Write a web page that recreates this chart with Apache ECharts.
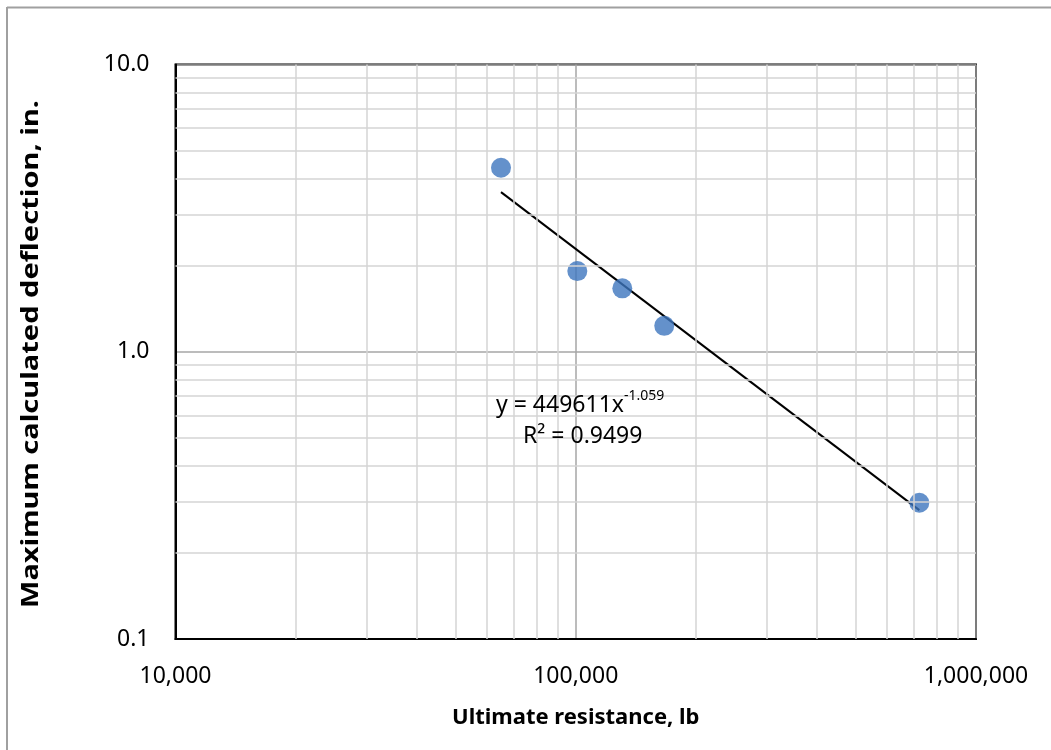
<!DOCTYPE html>
<html>
<head>
<meta charset="utf-8">
<script src="https://cdn.jsdelivr.net/npm/echarts@6/dist/echarts.min.js"></script>
<style>
  html, body { margin: 0; padding: 0; background: #fff; }
  #chart { width: 1051px; height: 750px; }
</style>
</head>
<body>
<div id="chart"></div>
<script>
// Ultimate resistance (lb) against maximum calculated deflection (in.)
const resistance = [65050, 100900, 130700, 166400, 721800];
const deflection = [4.37, 1.909, 1.662, 1.231, 0.298];

// Power-law fit shown on the chart: y = a * x^b
const fitA = 449611;
const fitB = -1.059;
const fitR2 = 0.9499;

// Axis ranges (decades)
const xMin = 10000, xMax = 1000000;
const yMin = 0.1, yMax = 10;

const xTitle = 'Ultimate resistance, lb';
const yTitle = 'Maximum calculated deflection, in.';

const FONT = 'Noto Sans';

// Minor gridline positions (2..9 within each decade)
function minorValues(lo, hi) {
  const out = [];
  for (let d = lo; d < hi; d *= 10) {
    for (let k = 2; k <= 9; k++) out.push(+(d * k).toPrecision(6));
  }
  return out;
}
const minorLines = []
  .concat(minorValues(xMin, xMax).map(v => ({ xAxis: v })))
  .concat(minorValues(yMin, yMax).map(v => ({ yAxis: v })));

// Fit line spans the observed x range
const xLo = Math.min(...resistance), xHi = Math.max(...resistance);
const fitLine = [xLo, xHi].map(x => [x, fitA * Math.pow(x, fitB)]);

// Vertical title is drawn as a rotated text, stretched to run along the plot height
const yTitleFont = 'bold 23px "' + FONT + '"';
const measureCtx = document.createElement('canvas').getContext('2d');
measureCtx.font = yTitleFont;
const yTitleLen = 508;
const yTitleStretch = yTitleLen / measureCtx.measureText(yTitle).width;

const chart = echarts.init(document.getElementById('chart'), null, { renderer: 'canvas' });

chart.setOption({
  backgroundColor: '#ffffff',
  animation: false,
  grid: {
    left: 175.5, top: 64.5, right: 75, bottom: 111,
    show: true, borderColor: '#000', borderWidth: 2, backgroundColor: 'transparent'
  },
  xAxis: {
    type: 'log', logBase: 10, min: xMin, max: xMax,
    axisLine: { show: true, lineStyle: { color: '#000', width: 2 } },
    axisTick: { show: false },
    splitLine: { show: true, lineStyle: { color: '#a6a6a6', width: 1.5 } },
    axisLabel: {
      margin: 26, fontFamily: FONT, fontSize: 23, color: '#000',
      formatter: v => Math.round(v).toLocaleString('en-US')
    },
    name: xTitle,
    nameLocation: 'middle', nameGap: 68,
    nameTextStyle: { fontFamily: FONT, fontSize: 22, fontWeight: 'bold', color: '#000' }
  },
  yAxis: {
    type: 'log', logBase: 10, min: yMin, max: yMax,
    axisLine: { show: true, lineStyle: { color: '#000', width: 2 } },
    axisTick: { show: false },
    splitLine: { show: true, lineStyle: { color: '#a6a6a6', width: 1.5 } },
    axisLabel: {
      margin: 26, fontFamily: FONT, fontSize: 23, color: '#000',
      formatter: v => Number(v).toFixed(1)
    }
  },
  series: [
    {
      name: 'minor-grid',
      type: 'scatter',
      data: [],
      silent: true,
      z: 1,
      markLine: {
        silent: true,
        symbol: 'none',
        label: { show: false },
        lineStyle: { color: '#d4d4d4', width: 1.5, type: 'solid' },
        data: minorLines,
        animation: false
      }
    },
    {
      name: 'Power fit',
      type: 'line',
      data: fitLine,
      symbol: 'none',
      z: 3,
      lineStyle: { color: '#000', width: 2 }
    },
    {
      name: 'Deflection',
      type: 'scatter',
      data: resistance.map((x, i) => [x, deflection[i]]),
      symbol: 'circle',
      symbolSize: 20,
      z: 4,
      itemStyle: { color: '#3d76be' }
    }
  ],
  graphic: [
    { type: 'line', shape: { x1: 7, y1: 7.5, x2: 1051, y2: 7.5 }, style: { stroke: '#a0a0a0', lineWidth: 2 }, z: 10 },
    { type: 'line', shape: { x1: 7, y1: 7, x2: 7, y2: 750 }, style: { stroke: '#a0a0a0', lineWidth: 2 }, z: 10 },
    {
      type: 'text', x: 31, y: 354, rotation: Math.PI / 2, scaleX: yTitleStretch, z: 10,
      style: {
        text: yTitle, font: yTitleFont, fill: '#000',
        align: 'center', verticalAlign: 'middle'
      }
    },
    {
      type: 'text', left: 496, top: 389, z: 10,
      style: {
        text: '{n|y = ' + fitA + 'x}{s|' + fitB.toFixed(3) + '}',
        rich: {
          n: { fontFamily: FONT, fontSize: 23, fill: '#000', verticalAlign: 'bottom', lineHeight: 28 },
          s: { fontFamily: FONT, fontSize: 14, fill: '#000', verticalAlign: 'top', lineHeight: 28, padding: [0, 0, 13, 0] }
        }
      }
    },
    {
      type: 'text', left: 523, top: 425, z: 10,
      style: {
        text: 'R\u00b2 = ' + fitR2.toFixed(4),
        fontFamily: FONT, fontSize: 23, fill: '#000'
      }
    }
  ]
});
</script>
</body>
</html>
